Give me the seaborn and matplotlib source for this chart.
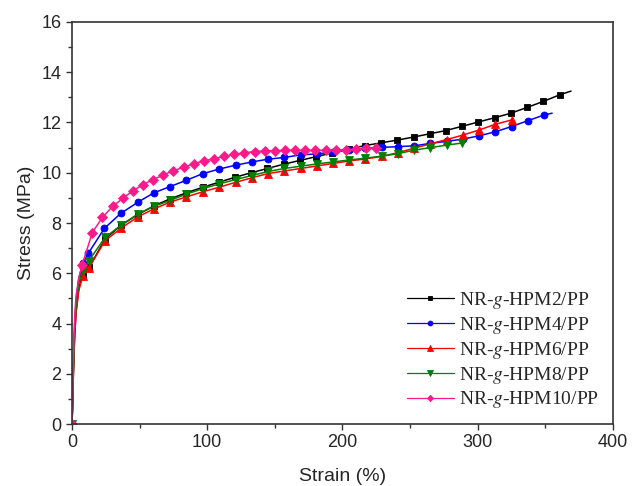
import matplotlib
matplotlib.use("Agg")
import matplotlib.pyplot as plt
import seaborn as sns
import pandas as pd
from matplotlib.ticker import MultipleLocator

sns.set_style("ticks")
plt.rcParams["font.family"] = ["Liberation Sans", "DejaVu Sans"]
plt.rcParams["mathtext.fontset"] = "stix"

# ---- data ----
labels = ["NR-$g$-HPM2/PP", "NR-$g$-HPM4/PP", "NR-$g$-HPM6/PP",
          "NR-$g$-HPM8/PP", "NR-$g$-HPM10/PP"]

hpm2_strain = [0, 0.5, 1, 2, 3, 5, 8, 12.8, 24.4, 36.5, 48.5, 60.5, 72.5, 84.5, 96.5,
               108.5, 120.5, 132.5, 144.5, 156.5, 168.5, 180.5, 192.5, 204.5, 216.5,
               228.5, 240.5, 252.5, 264.5, 276.5, 288.5, 300.5, 312.5, 324.5, 336.5,
               348.5, 360.5, 369]
hpm2_stress = [0, 0.8, 2.0, 3.6, 4.5, 5.4, 5.95, 6.24, 7.36, 7.92, 8.33, 8.68, 8.96, 9.2,
               9.42, 9.62, 9.82, 10.0, 10.17, 10.34, 10.49, 10.64, 10.79, 10.94, 11.08,
               11.19, 11.3, 11.42, 11.55, 11.68, 11.85, 12.02, 12.19, 12.37, 12.6, 12.84,
               13.1, 13.25]

hpm4_strain = [0, 0.5, 1, 2, 3, 5, 8, 12, 24, 36, 48.5, 60.5, 72.5, 84.5, 96.5, 109, 121,
               133, 145, 157, 169, 181, 193, 205, 217, 229, 241, 253, 265, 277, 289, 301,
               313, 325, 337, 349, 355]
hpm4_stress = [0, 1.0, 2.3, 4.0, 4.9, 5.8, 6.4, 6.79, 7.79, 8.38, 8.82, 9.2, 9.45, 9.70,
               9.96, 10.15, 10.30, 10.43, 10.54, 10.61, 10.71, 10.75, 10.82, 10.90, 10.97,
               11.01, 11.04, 11.07, 11.17, 11.25, 11.34, 11.47, 11.63, 11.84, 12.07, 12.30,
               12.37]

hpm6_strain = [0, 0.5, 1, 2, 3, 5, 8, 12.5, 24.5, 36.5, 48.5, 60.5, 72.5, 84.5, 96.5,
               108.5, 121, 133, 145, 157, 169, 181, 193, 205, 217, 229, 241, 253, 265,
               277, 289, 301, 313, 325]
hpm6_stress = [0, 0.8, 1.9, 3.5, 4.4, 5.3, 5.9, 6.22, 7.3, 7.8, 8.24, 8.56, 8.83, 9.04,
               9.24, 9.42, 9.62, 9.8, 9.97, 10.07, 10.17, 10.27, 10.37, 10.47, 10.55,
               10.65, 10.8, 10.98, 11.15, 11.32, 11.5, 11.7, 11.93, 12.1]

hpm8_strain = [0, 0.5, 1, 2, 3, 5, 8, 12.5, 24.5, 36.5, 48.5, 60.5, 72.5, 84.5, 96.5,
               108.5, 121, 133, 145, 157, 169, 181, 193, 205, 217, 229, 241, 253, 265,
               277, 288]
hpm8_stress = [0, 0.9, 2.1, 3.8, 4.7, 5.6, 6.1, 6.5, 7.43, 7.92, 8.35, 8.66, 8.9, 9.15,
               9.36, 9.55, 9.73, 9.89, 10.05, 10.17, 10.26, 10.35, 10.43, 10.51, 10.58,
               10.66, 10.76, 10.9, 11.0, 11.1, 11.18]

hpm10_strain = [0, 0.5, 1, 2, 3, 5, 7.5, 15, 22.5, 30, 37.5, 45, 52.5, 60, 67.5, 75, 82.5,
                90, 97.5, 105, 112.5, 120, 127.5, 135, 142.5, 150, 157.5, 165, 172.5, 180,
                187.5, 195, 202.5, 210, 217.5, 225]
hpm10_stress = [0, 1.2, 2.6, 4.3, 5.1, 5.8, 6.33, 7.62, 8.22, 8.66, 8.98, 9.28, 9.53, 9.73,
                9.91, 10.08, 10.22, 10.36, 10.47, 10.56, 10.65, 10.73, 10.80, 10.84, 10.87,
                10.88, 10.89, 10.89, 10.89, 10.89, 10.89, 10.90, 10.92, 10.94, 10.97, 11.0]

series = [
    (hpm2_strain, hpm2_stress, "black", "s", 4.2),
    (hpm4_strain, hpm4_stress, "#0000FF", "o", 5.0),
    (hpm6_strain, hpm6_stress, "#FF0000", "^", 5.2),
    (hpm8_strain, hpm8_stress, "#008000", "v", 5.2),
    (hpm10_strain, hpm10_stress, "#FF1A8C", "D", 4.6),
]

fig, ax = plt.subplots(figsize=(6.32, 4.86), dpi=100)
fig.subplots_adjust(left=72/632, right=613/632, bottom=1-424/486, top=1-22/486)

for (xs, ys, col, mk, ms), lab in zip(series, labels):
    df = pd.DataFrame({"strain": xs, "stress": ys})
    # markers on the first point and on the regular sampled points
    first = next(i for i, v in enumerate(xs) if v >= 7.5)
    last = len(xs) - 1 if lab not in (labels[0], labels[1]) else len(xs) - 2
    mev = [0] + list(range(first, last + 1))
    sns.lineplot(data=df, x="strain", y="stress", ax=ax, color=col, marker=mk,
                 markersize=ms, markeredgecolor=col, markerfacecolor=col,
                 markeredgewidth=0.6, linewidth=1.1, markevery=mev,
                 estimator=None, sort=False, label=lab)

ax.set_xlim(0, 400)
ax.set_ylim(0, 16)
ax.xaxis.set_major_locator(MultipleLocator(100))
ax.xaxis.set_minor_locator(MultipleLocator(50))
ax.yaxis.set_major_locator(MultipleLocator(2))
ax.yaxis.set_minor_locator(MultipleLocator(1))
ax.tick_params(which="major", direction="out", length=4.5, width=1.0,
               labelsize=13, color="#333333", pad=3)
ax.tick_params(which="minor", direction="out", length=2.8, width=1.0, color="#333333")
ax.tick_params(top=False, right=False, which="both")
for sp in ax.spines.values():
    sp.set_visible(True)
    sp.set_linewidth(1.2)
    sp.set_color("#333333")

ax.set_xlabel("Strain (%)", fontsize=14, labelpad=12)
ax.set_ylabel("Stress (MPa)", fontsize=14, labelpad=5)

leg = ax.legend(loc="lower right", bbox_to_anchor=(1.0, 0.0), frameon=False,
                prop={"family": "Liberation Serif", "size": 14},
                handlelength=2.4, handletextpad=0.3, labelspacing=0.2,
                markerscale=0.7, borderaxespad=0.3)
for h in leg.get_lines():
    h.set_linewidth(0.9)

fig.savefig("out.png", dpi=100)
